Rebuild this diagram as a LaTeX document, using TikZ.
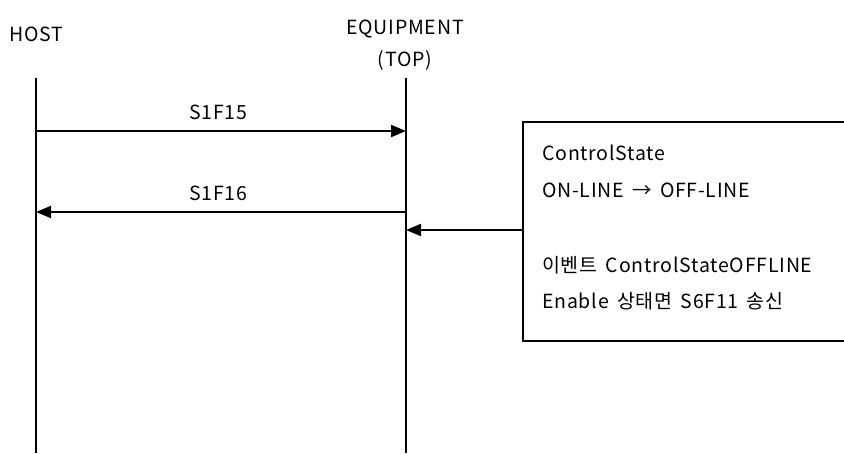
\documentclass[tikz,border=0pt]{standalone}
\usepackage{fontspec}
\setmainfont{Noto Sans CJK KR}
\newfontfamily\lblfont[WordSpace=1.6,LetterSpace=4]{Noto Sans CJK KR}
\usetikzlibrary{arrows.meta}
\begin{document}
\begin{tikzpicture}[x=1pt,y=-1pt,
  lbl/.style={font=\lblfont\fontsize{19.5}{22}\selectfont, inner sep=0pt},
  life/.style={line width=2pt},
  msg/.style={line width=2pt,-{Triangle[length=15pt,width=12pt]}},
  notebox/.style={draw, line width=2pt, anchor=north west, minimum width=340pt, minimum height=219pt, inner sep=0pt}]
  \useasboundingbox (0,0) rectangle (844,453);
  % participants
  \node[lbl, anchor=base] (host) at (36.5,41) {HOST};
  \node[lbl, anchor=base] (eq1) at (405,34) {EQUIPMENT};
  \node[lbl, anchor=base] (eq2) at (405,66) {(TOP)};
  \coordinate (ht) at (36,78);
  \coordinate (hb) at (36,453);
  \coordinate (et) at (406,78);
  \coordinate (eb) at (406,453);
  \draw[life] (ht) -- (hb);
  \draw[life] (et) -- (eb);
  % messages
  \coordinate (m1a) at (36,131);
  \coordinate (m1b) at (406,131);
  \coordinate (m2a) at (406,212);
  \coordinate (m2b) at (36,212);
  \draw[msg] (m1a) -- (m1b);
  \draw[msg] (m2a) -- (m2b);
  \node[lbl, anchor=base] (l1) at (218,119) {S1F15};
  \node[lbl, anchor=base] (l2) at (218,200) {S1F16};
  % note box
  \node[notebox] (box) at (522,121) {};
  \node[lbl, anchor=base west] (t1) at (542,160) {ControlState};
  \node[lbl, anchor=base west] (t2) at (542,197) {ON-LINE → OFF-LINE};
  \node[lbl, anchor=base west] (t3) at (542,272) {이벤트 ControlStateOFFLINE};
  \node[lbl, anchor=base west] (t4) at (542,308) {Enable 상태면 S6F11 송신};
  \coordinate (m3b) at (406,230);
  \draw[msg] (box.west |- m3b) -- (m3b);
\end{tikzpicture}
\end{document}
